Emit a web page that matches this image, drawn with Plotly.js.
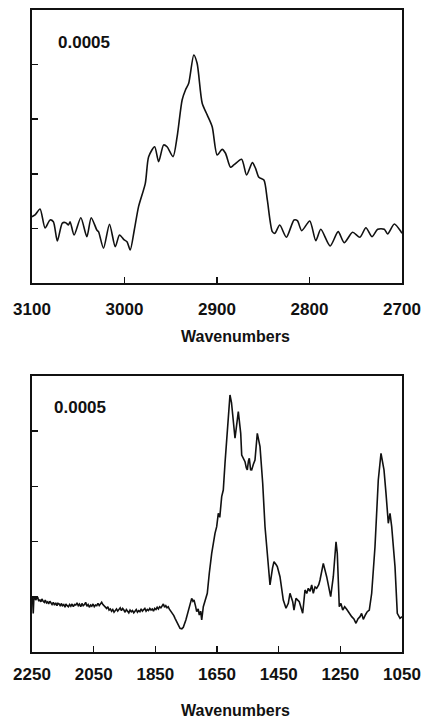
<!DOCTYPE html>
<html>
<head>
<meta charset="utf-8">
<script src="https://cdn.plot.ly/plotly-3.0.1.min.js"></script>
<style>
html,body{margin:0;padding:0;background:#fff;}
#chart{width:422px;height:719px;}
</style>
</head>
<body>
<div id="chart"></div>
<script>
// Top panel: C-H stretching region (absorbance in units of 1e-4)
var topWavenumbers = [3100, 3096.7, 3091.3, 3085.9, 3080.5, 3076.9, 3072.6, 3067.2, 3063.5, 3060.6, 3058.8, 3054.5, 3047.2, 3040.7, 3036.0, 3029.9, 3028.1, 3022.7, 3016.2, 3010.0, 3005.4, 3000.3, 2997.3, 2993.8, 2989.4, 2984.8, 2977.5, 2973.9, 2967.4, 2963.1, 2957.7, 2954.0, 2947.5, 2943.1, 2937.7, 2934.1, 2930.6, 2925.1, 2921.5, 2916.0, 2910.6, 2905.2, 2899.8, 2894.4, 2890.8, 2885.4, 2881.8, 2873.4, 2868.0, 2861.8, 2858.3, 2854.7, 2849.3, 2845.6, 2840.2, 2837.4, 2832.2, 2825.0, 2816.7, 2813.1, 2808.4, 2799.7, 2793.2, 2787.8, 2777.7, 2769.0, 2762.5, 2753.4, 2745.5, 2739.0, 2732.5, 2726.3, 2719.2, 2715.5, 2708.3, 2701.1, 2700];
var topAbsorbance = [6.07, 6.23, 6.78, 5.04, 5.77, 5.61, 3.85, 5.49, 5.52, 5.31, 5.61, 4.40, 5.98, 4.24, 5.98, 4.85, 4.70, 3.18, 5.38, 3.32, 4.40, 3.94, 3.78, 3.02, 4.85, 6.99, 9.13, 11.57, 12.48, 11.11, 12.64, 12.48, 11.57, 13.40, 16.76, 17.67, 18.29, 20.88, 20.12, 16.46, 15.39, 14.31, 11.72, 12.24, 11.88, 10.60, 10.81, 11.33, 9.89, 11.02, 10.50, 9.68, 9.43, 7.60, 4.70, 4.55, 5.31, 4.19, 5.77, 5.71, 4.79, 5.68, 3.87, 4.92, 3.39, 4.70, 3.69, 4.64, 4.19, 5.06, 4.24, 4.92, 4.92, 4.49, 5.40, 4.70, 4.55];

// Bottom panel, flat noisy baseline 2250-1805 (absorbance in units of 1e-4)
var baselineWavenumbers = [2250, 2248, 2246, 2244, 2241, 2238, 2235, 2231, 2228, 2225, 2221, 2218, 2214, 2210, 2207, 2203, 2199, 2196, 2192, 2188, 2185, 2181, 2177, 2173, 2169, 2166, 2162, 2158, 2155, 2151, 2147, 2143, 2140, 2136, 2132, 2128, 2124, 2120, 2116, 2112, 2108, 2104, 2100, 2096, 2092, 2088, 2084, 2080, 2076, 2072, 2068, 2064, 2060, 2056, 2052, 2048, 2044, 2040, 2036, 2032, 2028, 2024, 2020, 2016, 2012, 2008, 2004, 2000, 1996, 1992, 1988, 1984, 1980, 1976, 1972, 1968, 1964, 1960, 1956, 1952, 1948, 1944, 1940, 1936, 1932, 1928, 1924, 1920, 1916, 1912, 1908, 1904, 1900, 1896, 1892, 1888, 1884, 1880, 1876, 1872, 1868, 1864, 1860, 1856, 1852, 1848, 1844, 1840, 1836, 1832, 1828, 1824, 1820, 1816, 1812, 1808, 1805];
var baselineAbsorbance = [4.9, 4.75, 3.5, 4.85, 4.95, 4.7, 4.85, 4.9, 4.6, 4.75, 4.55, 4.8, 4.6, 4.5, 4.7, 4.45, 4.55, 4.35, 4.6, 4.4, 4.3, 4.5, 4.25, 4.45, 4.2, 4.4, 4.35, 4.15, 4.4, 4.2, 4.3, 4.05, 4.35, 4.2, 4.1, 4.3, 4.15, 4.35, 4.1, 4.3, 4.25, 4.45, 4.2, 4.35, 4.1, 4.4, 4.2, 4.3, 4.5, 4.15, 4.3, 4.05, 4.25, 4.15, 4.35, 4.1, 4.25, 4.2, 4.4, 4.2, 4.35, 4.5, 4.3, 4.15, 4.05, 3.95, 4.1, 3.8, 3.9, 3.7, 3.85, 3.6, 3.75, 3.9, 3.7, 3.85, 4.0, 3.75, 3.95, 3.8, 3.6, 3.85, 3.7, 3.55, 3.8, 3.65, 3.75, 3.55, 3.7, 3.85, 3.6, 3.75, 3.65, 3.9, 3.7, 3.8, 3.95, 3.7, 3.85, 3.75, 3.95, 3.8, 3.9, 3.7, 3.95, 3.85, 4.05, 3.9, 4.1, 4.0, 4.2, 4.35, 4.05, 4.2, 4.0, 4.1, 3.9];

// Bottom panel, band region 1802-1050 (absorbance in units of 1e-4)
var bandWavenumbers = [1802.4, 1796, 1790, 1786.1, 1778, 1769.9, 1764, 1759.3, 1751, 1743.1, 1736, 1732.1, 1728, 1724.6, 1720, 1715.8, 1711, 1707.4, 1703, 1699.6, 1694.4, 1681.5, 1675.0, 1667.2, 1656.5, 1651.0, 1645.8, 1641, 1634.8, 1629.6, 1624.1, 1616.6, 1607.9, 1603, 1599.1, 1591.6, 1580.9, 1573.1, 1569.9, 1559.2, 1555, 1551.7, 1548, 1545.2, 1541, 1537.5, 1532, 1526.8, 1519.3, 1514, 1510.5, 1501.8, 1494.3, 1486.9, 1478.1, 1470, 1465.2, 1458, 1454.4, 1445.7, 1435.0, 1426.2, 1418.8, 1413.3, 1404.5, 1400.3, 1393.8, 1383.1, 1372.1, 1364.6, 1359, 1353.9, 1348, 1342.9, 1337.7, 1332, 1326.7, 1320, 1315.9, 1305.2, 1294.3, 1281.3, 1272.8, 1264.0, 1259.9, 1253.4, 1248, 1242.3, 1236, 1229.4, 1221, 1213.1, 1206, 1199.2, 1193, 1186.2, 1181, 1175.5, 1168, 1162.6, 1156.1, 1148.3, 1137.6, 1126.9, 1118.1, 1108.4, 1101.9, 1094.4, 1088.9, 1083.4, 1072.7, 1065.3, 1056.5, 1050];
var bandAbsorbance = [3.80, 3.5, 3.3, 3.05, 2.6, 2.15, 2.1, 2.24, 2.9, 3.80, 4.5, 4.86, 4.6, 4.71, 4.2, 3.65, 3.9, 3.35, 3.7, 2.90, 4.10, 5.32, 7.13, 8.94, 10.75, 11.35, 12.56, 12.2, 14.07, 14.67, 17.09, 20.11, 23.28, 22.6, 21.31, 19.36, 21.77, 19.81, 17.84, 17.24, 16.7, 16.49, 17.3, 17.55, 16.5, 16.49, 17.0, 17.39, 19.81, 19.2, 18.60, 15.28, 11.35, 8.94, 6.07, 7.6, 8.18, 7.9, 7.73, 6.82, 4.71, 3.96, 4.41, 5.32, 4.56, 3.80, 4.86, 4.56, 3.51, 5.62, 5.3, 5.77, 5.5, 6.07, 5.32, 5.9, 5.77, 6.1, 6.52, 8.03, 6.82, 5.01, 6.82, 9.99, 8.94, 4.10, 4.4, 3.80, 4.1, 3.87, 3.5, 3.20, 3.0, 2.60, 3.0, 3.20, 3.5, 2.96, 3.4, 3.65, 3.80, 5.32, 9.54, 15.58, 18.00, 16.49, 14.37, 11.66, 12.56, 11.35, 7.73, 3.51, 3.05, 3.2];

var topTicks = [3100, 3000, 2900, 2800, 2700];
var bottomTicks = [2250, 2050, 1850, 1650, 1450, 1250, 1050];
var scaleLabel = "0.0005";
var axisTitle = "Wavenumbers";

var FONT = "Liberation Sans, Arial, Helvetica, sans-serif";

var bottomWavenumbers = baselineWavenumbers.concat(bandWavenumbers);
var bottomAbsorbance = baselineAbsorbance.concat(bandAbsorbance);

var traces = [
  {x: topWavenumbers, y: topAbsorbance, xaxis: 'x', yaxis: 'y', mode: 'lines',
   line: {color: '#111', width: 1.6, shape: 'spline', smoothing: 0.7}, hoverinfo: 'skip'},
  {x: bottomWavenumbers, y: bottomAbsorbance, xaxis: 'x2', yaxis: 'y2', mode: 'lines',
   line: {color: '#111', width: 1.6}, hoverinfo: 'skip'}
];

function xAx(range, ticks, anchor, standoff) {
  return {
    range: range, autorange: false, anchor: anchor, domain: [0, 1],
    tickmode: 'array', tickvals: ticks, ticktext: ticks.map(String),
    ticks: 'inside', ticklen: 6, tickwidth: 1.5, tickcolor: '#111',
    showline: true, linecolor: '#111', linewidth: 1.6, mirror: true,
    showgrid: false, zeroline: false,
    tickfont: {family: FONT, size: 17, color: '#111', weight: 'bold'},
    ticklabelstandoff: standoff
  };
}
function yAx(domain, anchor) {
  return {
    range: [0, 25], autorange: false, anchor: anchor, domain: domain,
    tickmode: 'linear', tick0: 0, dtick: 5,
    ticks: 'inside', ticklen: 6, tickwidth: 1.5, tickcolor: '#111',
    showticklabels: false,
    showline: true, linecolor: '#111', linewidth: 1.6, mirror: true,
    showgrid: false, zeroline: false
  };
}

var layout = {
  width: 422, height: 719,
  margin: {l: 32, r: 20, t: 10, b: 67, pad: 0},
  paper_bgcolor: '#fff', plot_bgcolor: '#fff',
  showlegend: false,
  font: {family: FONT, color: '#111'},
  xaxis: xAx([3100, 2700], topTicks, 'y', 10),
  yaxis: yAx([0.5748, 1], 'x'),
  xaxis2: xAx([2250, 1050], bottomTicks, 'y2', 6),
  yaxis2: yAx([0, 0.4299], 'x2'),
  annotations: [
    {text: scaleLabel, xref: 'paper', yref: 'paper', x: 0.1405, y: 0.9494,
     xanchor: 'center', yanchor: 'middle', showarrow: false,
     font: {family: FONT, size: 17, color: '#111', weight: 'bold'}},
    {text: scaleLabel, xref: 'paper', yref: 'paper', x: 0.1297, y: 0.3808,
     xanchor: 'center', yanchor: 'middle', showarrow: false,
     font: {family: FONT, size: 17, color: '#111', weight: 'bold'}},
    {text: axisTitle, xref: 'paper', yref: 'paper', x: 0.55, y: 0.4907,
     xanchor: 'center', yanchor: 'middle', showarrow: false,
     font: {family: FONT, size: 16, color: '#111', weight: 'bold'}},
    {text: axisTitle, xref: 'paper', yref: 'paper', x: 0.551, y: -0.0919,
     xanchor: 'center', yanchor: 'middle', showarrow: false,
     font: {family: FONT, size: 16, color: '#111', weight: 'bold'}}
  ]
};

Plotly.newPlot('chart', traces, layout, {staticPlot: true, displayModeBar: false});
</script>
</body>
</html>
